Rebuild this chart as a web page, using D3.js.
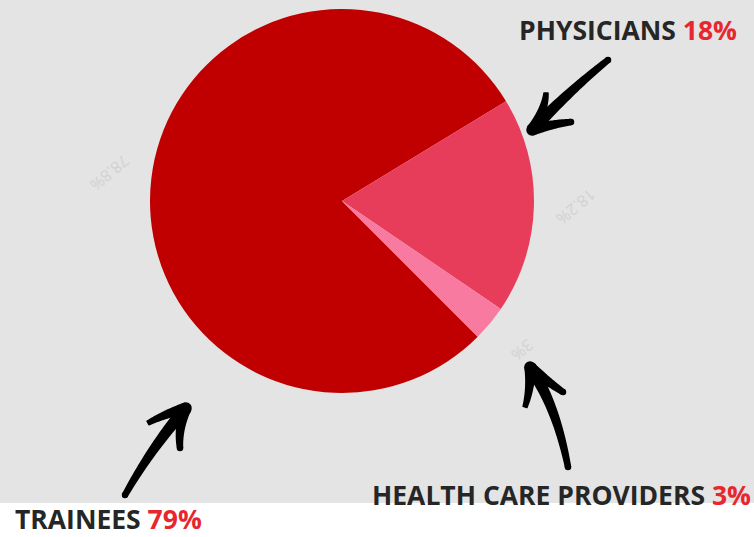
<!DOCTYPE html>
<html>
<head>
<meta charset="utf-8">
<script src="https://cdn.jsdelivr.net/npm/d3@7"></script>
<style>
  body { margin: 0; background: #ffffff; }
  svg { display: block; }
</style>
</head>
<body>
<div id="chart"></div>
<script>
const categories = ["TRAINEES", "PHYSICIANS", "HEALTH CARE PROVIDERS"];
const shares = [78.8, 18.2, 3.0];
const calloutPct = ["79%", "18%", "3%"];
const sliceColors = ["#c00000", "#e83d5a", "#f97aa0"];

const W = 754, H = 537;
const cx = 342, cy = 201, radius = 192;

const svg = d3.select("#chart")
  .append("svg")
  .attr("width", W)
  .attr("height", H);

// grey panel, white strip at the bottom
svg.append("rect")
  .attr("width", W)
  .attr("height", 503)
  .attr("fill", "#e3e4e3");

const pie = d3.pie()
  .sort(null)
  .value(d => d)
  .startAngle(135 * Math.PI / 180)
  .endAngle(135 * Math.PI / 180 + 2 * Math.PI);

const arcs = pie(shares);
const arc = d3.arc().innerRadius(0).outerRadius(radius);
const labelArc = d3.arc().innerRadius(234).outerRadius(234);

const g = svg.append("g").attr("transform", `translate(${cx},${cy})`);

g.selectAll("path.slice")
  .data(arcs)
  .enter()
  .append("path")
  .attr("class", "slice")
  .attr("d", arc)
  .attr("fill", (d, i) => sliceColors[i]);

// faint rotated value labels outside the pie
const fmt = d3.format(".1~f");
g.selectAll("text.val")
  .data(arcs)
  .enter()
  .append("text")
  .attr("class", "val")
  .attr("transform", d => {
    const [x, y] = labelArc.centroid(d);
    return `translate(${x},${y}) rotate(140)`;
  })
  .attr("text-anchor", "middle")
  .attr("dominant-baseline", "central")
  .style("font-family", "'Open Sans', sans-serif")
  .style("font-size", "16px")
  .style("fill", "#d2d2d2")
  .text(d => fmt(d.data) + "%");

// callouts
const callouts = [
  { i: 0, x: 15, y: 529 },
  { i: 1, x: 519, y: 40 },
  { i: 2, x: 372, y: 505 }
];

callouts.forEach(c => {
  const t = svg.append("text")
    .attr("x", c.x)
    .attr("y", c.y)
    .style("font-family", "'Open Sans', sans-serif")
    .style("font-weight", "bold")
    .style("font-size", "26.5px");
  t.append("tspan").style("fill", "#262626").text(categories[c.i] + " ");
  t.append("tspan").style("fill", "#e8262e").text(calloutPct[c.i]);
});

// brush-style arrows
function taper(p0, c, p1, w0, w1) {
  const n = 30, left = [], right = [];
  for (let k = 0; k <= n; k++) {
    const t = k / n;
    const x = (1 - t) * (1 - t) * p0[0] + 2 * (1 - t) * t * c[0] + t * t * p1[0];
    const y = (1 - t) * (1 - t) * p0[1] + 2 * (1 - t) * t * c[1] + t * t * p1[1];
    let dx = 2 * (1 - t) * (c[0] - p0[0]) + 2 * t * (p1[0] - c[0]);
    let dy = 2 * (1 - t) * (c[1] - p0[1]) + 2 * t * (p1[1] - c[1]);
    const len = Math.hypot(dx, dy) || 1;
    dx /= len; dy /= len;
    const w = (w0 + (w1 - w0) * t) / 2;
    left.push([x - dy * w, y + dx * w]);
    right.push([x + dy * w, y - dx * w]);
  }
  return "M" + left.concat(right.reverse()).map(p => p.join(",")).join("L") + "Z";
}

const arrows = [
  { tail: [125, 495], ctrl: [152, 447], tip: [186, 408],
    a: [148, 423], ac: [165, 414], b: [180, 448], bc: [178, 428] },
  { tail: [608, 60], ctrl: [568, 92], tip: [532, 130],
    a: [546, 93], ac: [545, 110], b: [571, 122], bc: [552, 124] },
  { tail: [568, 467], ctrl: [556, 405], tip: [530, 367],
    a: [525, 407], ac: [531, 388], b: [563, 392], bc: [549, 383] }
];

arrows.forEach(ar => {
  const ag = svg.append("g")
    .attr("fill", "#000")
    .attr("stroke", "#000")
    .attr("stroke-width", 1.5)
    .attr("stroke-linejoin", "round");
  ag.append("path").attr("d", taper(ar.tail, ar.ctrl, ar.tip, 5, 11));
  ag.append("path").attr("d", taper(ar.tip, ar.ac, ar.a, 10, 4));
  ag.append("path").attr("d", taper(ar.tip, ar.bc, ar.b, 10, 5));
  ag.append("circle").attr("cx", ar.tip[0]).attr("cy", ar.tip[1]).attr("r", 5);
  ag.append("circle").attr("cx", ar.b[0]).attr("cy", ar.b[1]).attr("r", 2.5);
  ag.append("circle").attr("cx", ar.tail[0]).attr("cy", ar.tail[1]).attr("r", 2.5);
});
</script>
</body>
</html>
